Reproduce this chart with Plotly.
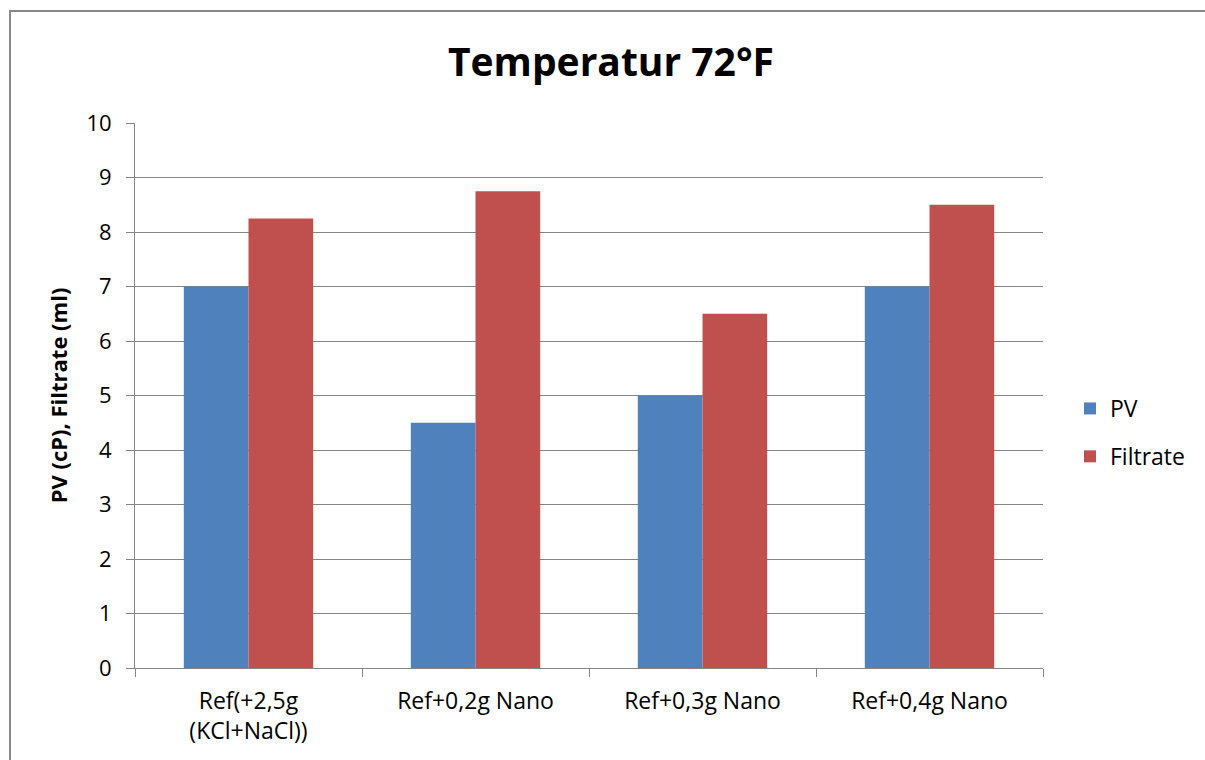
import plotly.graph_objects as go

categories = ["Ref(+2,5g<br>(KCl+NaCl))", "Ref+0,2g Nano", "Ref+0,3g Nano", "Ref+0,4g Nano"]
pv_values = [7, 4.5, 5, 7]
filtrate_values = [8.25, 8.75, 6.5, 8.5]
y_ticks = list(range(0, 11))

W, H = 1205, 760
L, R, T, B = 135, 1043, 123, 668
FONT = "Open Sans"

fig = go.Figure()
fig.add_trace(go.Bar(name="PV", x=categories, y=pv_values, marker_color="#4F81BD",
                     marker_line_width=0, legendgroup="a"))
fig.add_trace(go.Bar(name="Filtrate", x=categories, y=filtrate_values, marker_color="#C0504D",
                     marker_line_width=0, legendgroup="b"))

def px_x(p):
    return (p - L) / (R - L)

def px_y(p):
    return (B - p) / (B - T)

fig.update_layout(
    width=W, height=H,
    margin=dict(l=L, r=W - R, t=T, b=H - B, pad=0, autoexpand=False),
    paper_bgcolor="white", plot_bgcolor="white",
    barmode="group", bargap=0.43, bargroupgap=0,
    font=dict(family=FONT, color="black", size=22),
    title=dict(text="<b>Temperatur 72°F</b>", x=611 / W, xanchor="center", y=1 - 62 / H, yanchor="middle",
               font=dict(family=FONT, size=39, color="black")),
    legend=dict(x=px_x(1070), y=px_y(387), xanchor="left", yanchor="top",
                font=dict(family=FONT, size=23), tracegroupgap=15, traceorder="grouped",
                itemsizing="constant", bgcolor="rgba(0,0,0,0)"),
    showlegend=True,
    shapes=[dict(type="rect", xref="paper", yref="paper",
                 x0=px_x(10), x1=px_x(1215), y0=px_y(775), y1=px_y(11),
                 line=dict(color="#898989", width=2), fillcolor="rgba(0,0,0,0)", layer="below")],
)
fig.update_xaxes(showline=True, linecolor="#868686", linewidth=1, ticks="outside", ticklen=8,
                 tickcolor="#868686", tickson="boundaries", showgrid=False,
                 tickfont=dict(family=FONT, size=23), zeroline=False, ticklabelstandoff=12)
fig.update_yaxes(range=[0, 10], tickvals=y_ticks, showline=True, linecolor="#868686", linewidth=1,
                 ticks="outside", ticklen=8, tickcolor="#868686", showgrid=True, gridcolor="#868686",
                 gridwidth=1, zeroline=False, tickfont=dict(family=FONT, size=22),
                 ticklabelstandoff=10,
                 title=dict(text="<b>PV (cP), Filtrate (ml)</b>", font=dict(family=FONT, size=22),
                            standoff=12))

fig.write_html("out.html")
